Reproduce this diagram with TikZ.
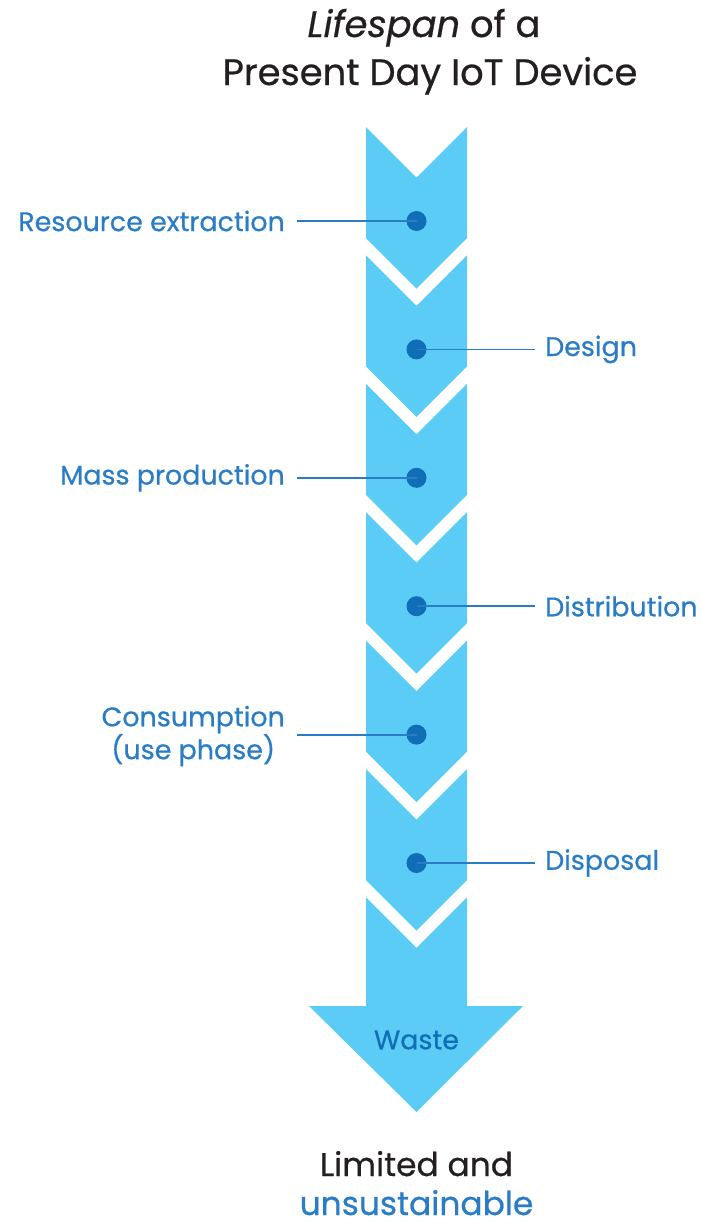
\documentclass[tikz,border=0pt]{standalone}
\usepackage{fontspec}
\setmainfont{Poppins}
\newfontfamily\medfont{Poppins}[FakeBold=0.6]
\definecolor{arrowblue}{RGB}{91,204,245}
\definecolor{dotblue}{RGB}{16,110,182}
\definecolor{labelblue}{RGB}{42,125,197}
\definecolor{titledark}{RGB}{35,31,32}
\begin{document}
\begin{tikzpicture}[x=1bp,y=-1bp,
  band/.style={fill=arrowblue, draw=none},
  dot/.style={circle, fill=dotblue, inner sep=0pt, minimum size=20bp},
  lbl/.style={text=labelblue, font=\medfont\fontsize{27}{33}\selectfont, inner sep=0pt},
  ttl/.style={text=titledark, font=\medfont\fontsize{37}{48}\selectfont, inner sep=0pt},
  btm/.style={text=titledark, font=\medfont\fontsize{33}{42}\selectfont, inner sep=0pt},
  leader/.style={draw=labelblue, line width=1.8bp}]
\useasboundingbox (0,0) rectangle (702,1227);
% chevrons
\foreach \k in {0,...,5}{
  \pgfmathsetmacro{\t}{127+128.4*\k}
  \fill[band] (366,\t) -- (416.5,\t+50.5) -- (467,\t) -- (467,\t+111) -- (416.5,\t+161.5) -- (366,\t+111) -- cycle;
}
% final arrow
\fill[band] (366,897.4) -- (416.5,947.9) -- (467,897.4) -- (467,1006) -- (523,1006) -- (416.5,1112) -- (309,1006) -- (366,1006) -- cycle;
% dots
\node[dot] (d1) at (416.5,221) {};
\node[dot] (d2) at (416.5,349.4) {};
\node[dot] (d3) at (416.5,477.8) {};
\node[dot] (d4) at (416.5,606.2) {};
\node[dot] (d5) at (416.5,734.6) {};
\node[dot] (d6) at (416.5,863) {};
% labels
\node[lbl, anchor=east] (l1) at (285,221) {Resource extraction};
\node[lbl, anchor=west] (l2) at (545,349.4) {Design};
\node[lbl, anchor=east] (l3) at (285,477.8) {Mass production};
\node[lbl, anchor=west] (l4) at (545,606.2) {Distribution};
\node[lbl, anchor=east, align=center] (l5) at (285,736) {Consumption\\(use phase)};
\node[lbl, anchor=west] (l6) at (545,863) {Disposal};
% leaders
\draw[leader] ([xshift=12bp]l1.east) -- (d1.center);
\draw[leader] (d2.center) -- ([xshift=-10bp]l2.west);
\draw[leader] ([xshift=12bp]l3.east) -- (d3.center);
\draw[leader] (d4.center) -- ([xshift=-10bp]l4.west);
\draw[leader] ([xshift=12bp]l5.east |- d5) -- (d5.center);
\draw[leader] (d6.center) -- ([xshift=-10bp]l6.west);
% waste
\node[lbl, text=dotblue] (w) at (416.5,1040) {Waste};
% title
\node[ttl, anchor=base] (t1) at (424,37) {\textit{Lifespan} of a};
\node[ttl, anchor=base] (t2) at (430,85) {Present Day IoT Device};
% bottom
\node[btm, anchor=base] (b1) at (416.5,1176) {Limited and};
\node[btm, anchor=base, text=labelblue] (b2) at (416.5,1215) {unsustainable};
\end{tikzpicture}
\end{document}
